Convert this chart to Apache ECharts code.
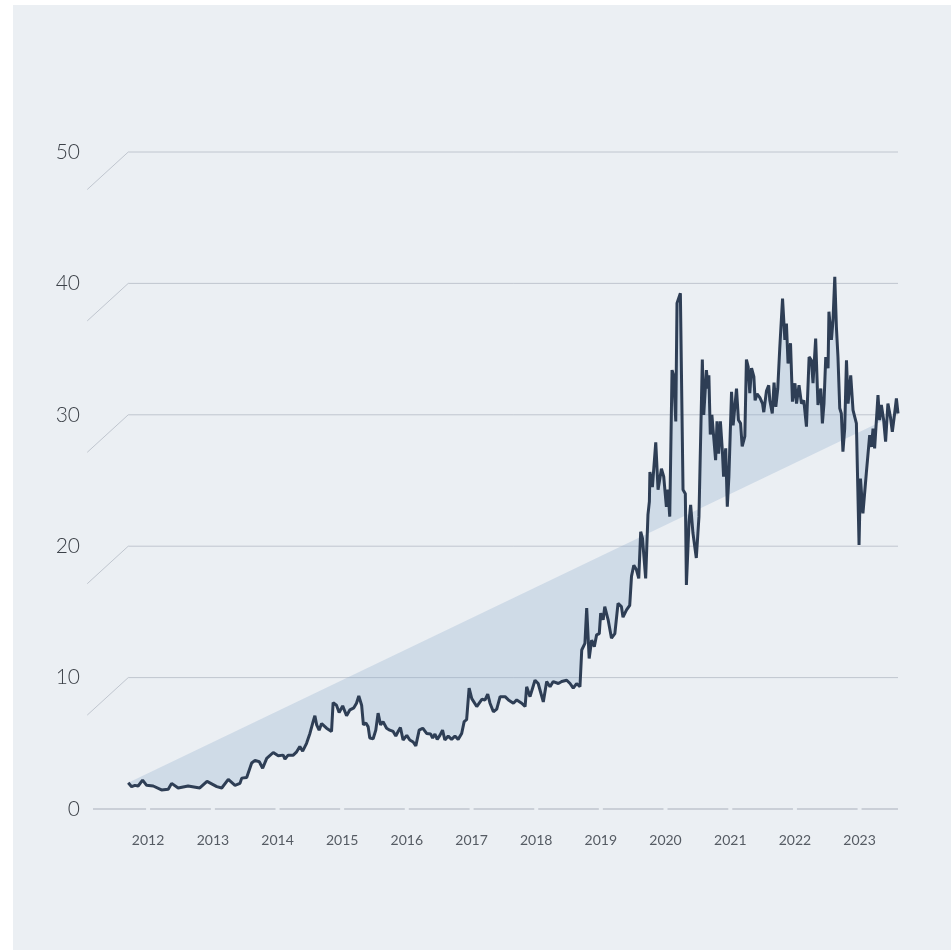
<!DOCTYPE html>
<html><head><meta charset="utf-8">
<script src="https://cdn.jsdelivr.net/npm/echarts@6/dist/echarts.min.js"></script>
<style>html,body{margin:0;padding:0;background:#fff}#c{width:951px;height:950px}</style>
</head><body><div id="c"></div>
<script>
const dates = [
'2011-09-11','2011-09-30','2011-10-19','2011-11-06','2011-12-01','2011-12-24',
'2012-01-30','2012-03-17','2012-04-24','2012-05-13','2012-06-19','2012-08-14','2012-10-19','2012-11-29',
'2013-01-23','2013-02-20','2013-03-29','2013-05-06','2013-06-03','2013-06-13','2013-07-11','2013-08-08','2013-08-27','2013-09-20','2013-10-09','2013-11-01','2013-12-08',
'2014-01-05','2014-02-02','2014-02-12','2014-03-02','2014-03-31','2014-04-19','2014-05-07','2014-05-23','2014-06-14','2014-07-03','2014-07-21','2014-07-31','2014-08-10','2014-08-24','2014-09-07','2014-10-05','2014-11-02','2014-11-11','2014-11-30','2014-12-15',
'2015-01-04','2015-01-26','2015-02-14','2015-03-08','2015-03-23','2015-04-05','2015-04-21','2015-05-01','2015-05-15','2015-05-28','2015-06-06','2015-06-25','2015-07-10','2015-07-23','2015-08-06','2015-08-20','2015-09-09','2015-09-27','2015-10-16','2015-10-31','2015-11-13','2015-11-26','2015-12-11',
'2016-01-01','2016-01-18','2016-02-06','2016-02-21','2016-03-11','2016-03-31','2016-04-22','2016-05-15','2016-05-26','2016-06-08','2016-06-21','2016-07-06','2016-07-21','2016-08-03','2016-08-22','2016-09-10','2016-09-29','2016-10-17','2016-11-06','2016-11-20','2016-12-04','2016-12-18',
'2017-01-02','2017-01-30','2017-02-28','2017-03-18','2017-04-02','2017-04-15','2017-05-04','2017-05-23','2017-06-11','2017-07-09','2017-07-28','2017-08-25','2017-09-13','2017-10-11','2017-10-30','2017-11-08','2017-11-27','2017-12-25',
'2018-01-12','2018-02-10','2018-03-01','2018-03-20','2018-04-07','2018-05-06','2018-05-25','2018-06-22','2018-07-11','2018-07-29','2018-08-17','2018-09-05','2018-09-15','2018-10-03','2018-10-13','2018-10-27','2018-11-10','2018-11-25','2018-12-08','2018-12-23','2018-12-31',
'2019-01-14','2019-01-23','2019-02-11','2019-03-02','2019-03-21','2019-04-08','2019-04-27','2019-05-06','2019-05-26','2019-06-13','2019-06-23','2019-07-06','2019-07-21','2019-08-03','2019-08-14','2019-08-24','2019-09-11','2019-09-24','2019-10-02','2019-10-05','2019-10-19','2019-11-07','2019-11-20','2019-12-09','2019-12-22',
'2020-01-06','2020-01-15','2020-01-25','2020-02-07','2020-02-16','2020-02-28','2020-03-06','2020-03-25','2020-04-09','2020-04-22','2020-04-28','2020-05-13','2020-05-22','2020-06-04','2020-06-23','2020-07-08','2020-07-27','2020-08-04','2020-08-19','2020-08-28','2020-09-02','2020-09-10','2020-09-19','2020-09-29','2020-10-10','2020-10-18','2020-10-27','2020-11-06','2020-11-17','2020-11-24','2020-12-06','2020-12-15','2020-12-24',
'2021-01-08','2021-01-17','2021-02-05','2021-02-16','2021-02-28','2021-03-09','2021-03-24','2021-04-02','2021-04-12','2021-04-21','2021-05-01','2021-05-14','2021-05-21','2021-06-01','2021-06-17','2021-07-02','2021-07-09','2021-07-24','2021-08-06','2021-08-12','2021-08-26','2021-09-05','2021-09-15','2021-09-22','2021-09-26','2021-10-07','2021-10-23','2021-11-05','2021-11-14','2021-11-23','2021-12-07','2021-12-18',
'2022-01-01','2022-01-10','2022-01-24','2022-02-07','2022-02-20','2022-03-07','2022-03-22','2022-04-04','2022-04-13','2022-04-28','2022-05-11','2022-05-27','2022-06-05','2022-06-14','2022-06-24','2022-07-07','2022-07-12','2022-07-26','2022-08-04','2022-08-14','2022-08-23','2022-09-01','2022-09-11','2022-09-20','2022-09-29','2022-10-09','2022-10-19','2022-10-28','2022-11-12','2022-11-25','2022-12-14','2022-12-29',
'2023-01-06','2023-01-20','2023-02-08','2023-02-27','2023-03-09','2023-03-18','2023-03-27','2023-04-15','2023-04-24','2023-05-04','2023-05-17','2023-05-28','2023-06-10','2023-06-24','2023-07-05','2023-07-18','2023-07-28','2023-08-06'
];
const values = [
2.0,1.7,1.8,1.75,2.2,1.8,
1.75,1.45,1.5,1.95,1.6,1.75,1.6,2.1,
1.7,1.6,2.25,1.8,1.95,2.35,2.4,3.5,3.7,3.6,3.1,3.85,4.3,
4.05,4.1,3.8,4.1,4.1,4.35,4.75,4.4,5.0,5.75,6.65,7.1,6.4,6.0,6.5,6.15,5.9,8.1,7.9,7.35,
7.85,7.1,7.55,7.7,8.05,8.6,7.9,6.4,6.55,6.25,5.4,5.35,6.0,7.3,6.4,6.65,6.15,6.0,5.9,5.55,5.9,6.2,5.25,
5.6,5.25,5.1,4.8,6.0,6.15,5.75,5.7,5.4,5.7,5.3,5.6,6.0,5.25,5.55,5.3,5.55,5.3,5.75,6.65,6.8,9.2,
8.4,7.8,8.35,8.3,8.75,8.05,7.4,7.6,8.55,8.55,8.3,8.05,8.3,8.05,7.8,9.3,8.55,9.8,
9.55,8.15,9.7,9.3,9.7,9.55,9.7,9.8,9.55,9.2,9.55,9.3,12.1,12.6,15.3,11.45,12.85,12.35,13.25,13.35,14.9,
14.4,15.4,14.4,13.0,13.35,15.65,15.4,14.6,15.15,15.5,17.7,18.55,18.2,17.55,21.1,20.6,17.55,22.4,23.4,25.65,24.5,27.9,24.3,25.9,25.3,
23.0,24.3,22.25,33.4,33.0,29.5,38.5,39.25,24.3,24.0,17.05,21.85,23.15,21.0,19.1,22.25,34.2,30.0,33.4,32.0,33.0,28.5,30.0,28.35,26.55,29.5,27.05,29.5,27.3,25.3,27.45,23.0,25.3,
31.75,29.2,32.0,29.6,29.35,27.6,28.35,34.2,33.65,31.65,33.55,32.9,31.1,31.6,31.3,30.85,30.2,31.8,32.25,31.1,30.1,32.45,30.6,30.5,32.0,35.0,38.85,35.7,36.95,33.9,35.45,31.0,
32.4,30.85,32.25,30.85,31.1,29.1,34.4,34.15,32.4,35.8,30.75,32.0,29.35,30.85,34.4,33.55,37.85,35.7,37.2,40.5,36.7,34.4,30.5,30.1,27.2,28.95,34.15,30.85,33.0,30.35,29.35,20.1,
25.15,22.5,25.55,28.45,27.55,28.95,27.45,31.5,29.6,30.75,29.6,27.95,30.85,29.85,28.7,30.1,31.25,30.1
];
const yTicks = [0, 10, 20, 30, 40, 50];
const axisStart = '2011-02-24';
const axisEnd = '2023-08-06';

const ts = dates.map(d => new Date(d + 'T00:00:00').getTime());
const lineData = ts.map((t, i) => [t, values[i]]);
const tStart = new Date(axisStart + 'T00:00:00').getTime();
const tEnd = new Date(axisEnd + 'T00:00:00').getTime();

function renderGrid(params, api) {
  const children = [];
  const xs = api.coord([ts[0], 0])[0];
  const xe = api.coord([tEnd, 0])[0];
  const gridStroke = '#c0c6cf';
  yTicks.forEach(v => {
    if (v === yTicks[0]) return;
    const y = api.coord([ts[0], v])[1];
    children.push({type: 'line', shape: {x1: xs, y1: y, x2: xe, y2: y}, style: {stroke: gridStroke, lineWidth: 1}});
    children.push({type: 'line', shape: {x1: xs, y1: y, x2: xs - 41, y2: y + 37.5}, style: {stroke: gridStroke, lineWidth: 1}});
  });
  const y0 = api.coord([tStart, yTicks[0]])[1];
  let prev = api.coord([tStart, 0])[0];
  const y1 = new Date(tStart).getFullYear() + 1;
  const y2 = new Date(tEnd).getFullYear();
  const axisStroke = '#a9b0bb';
  for (let yr = y1; yr <= y2; yr++) {
    const xb = api.coord([new Date(yr, 0, 1).getTime(), 0])[0];
    children.push({type: 'line', shape: {x1: prev, y1: y0, x2: xb - 2, y2: y0}, style: {stroke: axisStroke, lineWidth: 1.2}});
    prev = xb + 2;
  }
  children.push({type: 'line', shape: {x1: prev, y1: y0, x2: xe, y2: y0}, style: {stroke: axisStroke, lineWidth: 1.2}});
  return {type: 'group', children: children};
}

function renderFill(params, api) {
  const pts = lineData.map(p => api.coord(p));
  return {type: 'polygon', shape: {points: pts}, style: {fill: 'rgba(142,172,206,0.3)'}};
}

const chart = echarts.init(document.getElementById('c'), null, {renderer: 'canvas'});
chart.setOption({
  backgroundColor: '#ffffff',
  animation: false,
  graphic: [{type: 'rect', shape: {x: 13, y: 5, width: 951, height: 950}, style: {fill: '#ebeff3'}, z: -100, silent: true}],
  grid: {left: 93, right: 53, top: 152, bottom: 141, containLabel: false},
  xAxis: {
    type: 'time', min: tStart, max: tEnd, splitNumber: 12,
    axisLine: {show: false}, axisTick: {show: false}, splitLine: {show: false},
    axisLabel: {
      formatter: v => String(new Date(v).getFullYear()),
      color: '#555b63', fontSize: 14, fontFamily: 'Lato', fontWeight: 'normal', margin: 24,
      showMinLabel: false, showMaxLabel: false
    }
  },
  yAxis: {
    type: 'value', min: 0, max: 50, interval: 10,
    axisLine: {show: false}, axisTick: {show: false}, splitLine: {show: false},
    axisLabel: {color: '#3c4148', fontSize: 21, fontFamily: 'Lato', fontWeight: 300, margin: 13}
  },
  series: [
    {type: 'custom', renderItem: renderGrid, data: [lineData[0]], z: 1, silent: true, clip: false},
    {type: 'custom', renderItem: renderFill, data: [lineData[0]], z: 2, silent: true, clip: false},
    {type: 'line', data: lineData, showSymbol: false, symbol: 'none', lineStyle: {color: '#2e3e55', width: 3}, z: 3, clip: false}
  ]
});
</script></body></html>
